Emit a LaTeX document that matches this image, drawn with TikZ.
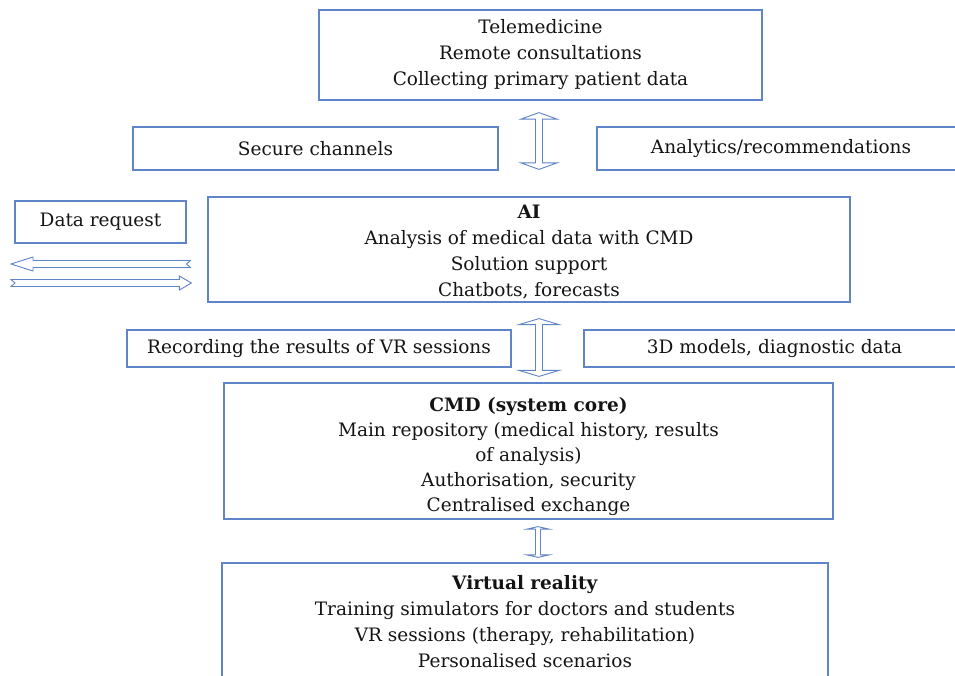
\documentclass[tikz,border=0pt]{standalone}
\usepackage{fontspec}
\setmainfont{DejaVu Serif}
\usetikzlibrary{calc}
\definecolor{boxblue}{RGB}{96,132,200}
\definecolor{txt}{RGB}{20,20,20}
\newcommand\vdarr[5]{%
  \draw[arr] (#1) -- ($(#1)+(#3,#4)$) -- ($(#1)+(#5,#4)$) -- ($(#2)+(#5,-#4)$) -- ($(#2)+(#3,-#4)$) -- (#2)
    -- ($(#2)+(-#3,-#4)$) -- ($(#2)+(-#5,-#4)$) -- ($(#1)+(-#5,#4)$) -- ($(#1)+(-#3,#4)$) -- cycle;}
\begin{document}
\begin{tikzpicture}[x=1pt,y=-1pt,
  box/.style={draw=boxblue,line width=1.2pt,align=center,inner sep=0pt,
    font=\fontsize{18.5}{26}\selectfont,text=txt},
  arr/.style={draw=boxblue,line width=0.9pt,fill=white,line join=miter}]
\useasboundingbox (0,0) rectangle (955,675);
\clip (0,0) rectangle (955,675);

\node[box,minimum width=443pt,minimum height=90pt] (tele) at (540.5,55)
  {Telemedicine\\Remote consultations\\Collecting primary patient data};
\node[box,minimum width=365pt,minimum height=43pt] (secure) at (315.5,148.5) {Secure channels};
\node[box,minimum width=368pt,minimum height=43pt] (analytics) at (781,148.5) {Analytics/recommendations};
\node[box,minimum width=171pt,minimum height=42pt] (datareq) at (100.5,222) {Data request};
\node[box,minimum width=642pt,minimum height=105pt] (ai) at (529,249.5)
  {\rule{0pt}{19pt}\textbf{AI}\\Analysis of medical data with CMD\\Solution support\\Chatbots, forecasts};
\node[box,minimum width=384pt,minimum height=37pt] (rec) at (319,348.5) {Recording the results of VR sessions};
\node[box,minimum width=381pt,minimum height=37pt] (models) at (774.5,348.5) {3D models, diagnostic data};
\node[box,minimum width=609pt,minimum height=136pt,font=\fontsize{18.5}{25}\selectfont] (cmd) at (528.5,451)
  {\rule{0pt}{25pt}\textbf{CMD (system core)}\\Main repository (medical history, results\\of analysis)\\Authorisation, security\\Centralised exchange};
\node[box,minimum width=606pt,minimum height=117pt] (vr) at (525,621.5)
  {\textbf{Virtual reality}\\Training simulators for doctors and students\\VR sessions (therapy, rehabilitation)\\Personalised scenarios};

% vertical double arrows
\coordinate (aTop) at ($(tele.south)+(-1.5,12)$);
\coordinate (aBot) at ($(ai.north)+(10,-27)$);
\vdarr{aTop}{aBot}{18}{6.5}{3.5}
\coordinate (bTop) at ($(ai.south)+(10,16)$);
\coordinate (bBot) at ($(cmd.north)+(10.5,-6)$);
\vdarr{bTop}{bBot}{20}{6}{3.5}
\coordinate (cTop) at ($(cmd.south)+(9.5,7)$);
\coordinate (cBot) at ($(vr.north)+(13,-5)$);
\vdarr{cTop}{cBot}{11}{2.5}{2.5}

% horizontal arrows at the AI box
\coordinate (lTip) at (11,264);
\coordinate (lEnd) at ($(ai.west)+(-17,14.5)$);
\draw[arr] (lTip) -- ($(lTip)+(22,-7)$) -- ($(lTip)+(22,-3.5)$) -- ($(lEnd)+(0,-3.5)$) -- ($(lEnd)+(-4,0)$)
  -- ($(lEnd)+(0,3.5)$) -- ($(lTip)+(22,3.5)$) -- ($(lTip)+(22,7)$) -- cycle;
\coordinate (rTip) at ($(ai.west)+(-16,33.5)$);
\coordinate (rEnd) at (11,283);
\draw[arr] (rTip) -- ($(rTip)+(-12,-7)$) -- ($(rTip)+(-12,-3.5)$) -- ($(rEnd)+(0,-3.5)$) -- ($(rEnd)+(4,0)$)
  -- ($(rEnd)+(0,3.5)$) -- ($(rTip)+(-12,3.5)$) -- ($(rTip)+(-12,7)$) -- cycle;
\end{tikzpicture}
\end{document}
